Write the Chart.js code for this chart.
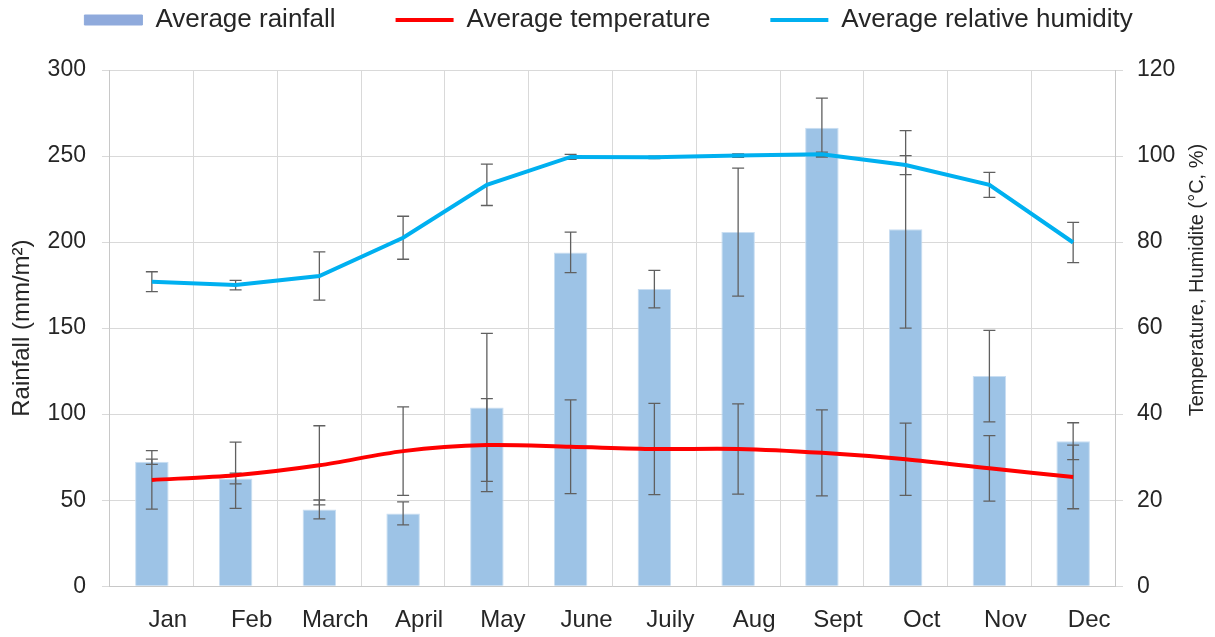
<!DOCTYPE html>
<html>
<head>
<meta charset="utf-8">
<script src="https://cdn.jsdelivr.net/npm/chart.js@4.4.0/dist/chart.umd.min.js"></script>
<style>
  html, body { margin: 0; padding: 0; background: #fff; }
</style>
</head>
<body>
<canvas id="chart" width="1215" height="637"></canvas>
<script>
// data
const months = ['Jan', 'Feb', 'March', 'April', 'May', 'June', 'Juily', 'Aug', 'Sept', 'Oct', 'Nov', 'Dec'];
const rainfall = [72.3, 62.6, 44.6, 42.3, 103.9, 194.0, 172.7, 205.8, 266.5, 207.4, 122.1, 84.3];
const rainfallErr = [1.5, 3.1, 5.5, 6.7, 43, 11.8, 10.9, 37.2, 17.1, 57.4, 26.6, 10.7];
const temperature = [24.7, 25.8, 28.1, 31.4, 32.8, 32.4, 31.9, 31.9, 31.0, 29.5, 27.4, 25.4];
const temperatureErr = [6.8, 7.7, 9.2, 10.3, 10.8, 10.9, 10.6, 10.5, 10.0, 8.4, 7.6, 7.4];
const humidity = [70.8, 70.0, 72.1, 81.0, 93.3, 99.8, 99.7, 100.1, 100.4, 97.9, 93.3, 79.9];
const humidityErr = [2.3, 1.1, 5.6, 5.0, 4.8, 0.6, 0.3, 0.4, 0.5, 2.2, 2.9, 4.7];

const leftTicks = [0, 300, 50];
const rightTicks = [0, 120, 20];
const leftTitle = 'Rainfall (mm/m²)';
const rightTitle = 'Temperature, Humidite (°C, %)';

Chart.defaults.font.family = '"Liberation Sans", Arial, sans-serif';
Chart.defaults.color = '#333';

// error bars: bars get them on top, lines get them underneath
function drawErrors(chart, index) {
  const ds = chart.data.datasets[index];
  if (!ds.errors) return;
  const meta = chart.getDatasetMeta(index);
  const scale = chart.scales[meta.yAxisID];
  const ctx = chart.ctx;
  ctx.save();
  ctx.strokeStyle = '#606060';
  ctx.lineWidth = 1.3;
  meta.data.forEach((el, j) => {
    const v = ds.data[j], e = ds.errors[j];
    const x = el.x;
    const yt = scale.getPixelForValue(v + e);
    const yb = scale.getPixelForValue(v - e);
    ctx.beginPath();
    ctx.moveTo(x, yt); ctx.lineTo(x, yb);
    ctx.moveTo(x - 6, yt); ctx.lineTo(x + 6, yt);
    ctx.moveTo(x - 6, yb); ctx.lineTo(x + 6, yb);
    ctx.stroke();
  });
  ctx.restore();
}

const errorBars = {
  id: 'errorBars',
  beforeDatasetDraw(chart, args) {
    if (chart.data.datasets[args.index].type === 'line') drawErrors(chart, args.index);
  },
  afterDatasetDraw(chart, args) {
    if (chart.data.datasets[args.index].type === 'bar') drawErrors(chart, args.index);
  }
};

// right axis title reads bottom-to-top like the left one
const rightTitlePlugin = {
  id: 'rightTitle',
  afterDraw(chart) {
    const s = chart.scales.y1;
    const area = chart.chartArea;
    const ctx = chart.ctx;
    ctx.save();
    ctx.translate(s.right - 16, (area.top + area.bottom) / 2 - 48);
    ctx.rotate(-Math.PI / 2);
    ctx.font = '20px "Liberation Sans", Arial, sans-serif';
    ctx.fillStyle = '#262626';
    ctx.textAlign = 'center';
    ctx.textBaseline = 'middle';
    ctx.fillText(rightTitle, 0, 0);
    ctx.restore();
  }
};

const ctx = document.getElementById('chart').getContext('2d');
new Chart(ctx, {
  data: {
    labels: months,
    datasets: [
      {
        type: 'bar',
        label: 'Average rainfall',
        data: rainfall,
        errors: rainfallErr,
        yAxisID: 'y',
        backgroundColor: '#9dc3e6',
        borderColor: '#c9def2',
        borderWidth: 1,
        barPercentage: 0.4,
        categoryPercentage: 1,
        pointStyle: 'rect',
        order: 3
      },
      {
        type: 'line',
        label: 'Average temperature',
        data: temperature,
        errors: temperatureErr,
        yAxisID: 'y1',
        borderColor: '#ff0000',
        backgroundColor: '#ff0000',
        borderWidth: 4,
        pointRadius: 0,
        tension: 0.3,
        pointStyle: 'line',
        order: 2
      },
      {
        type: 'line',
        label: 'Average relative humidity',
        data: humidity,
        errors: humidityErr,
        yAxisID: 'y1',
        borderColor: '#00b0f0',
        backgroundColor: '#00b0f0',
        borderWidth: 4,
        pointRadius: 0,
        tension: 0,
        pointStyle: 'line',
        order: 1
      }
    ]
  },
  options: {
    responsive: false,
    animation: false,
    layout: { padding: { top: -53, bottom: -18, left: 3.8, right: 1.6 } },
    plugins: {
      tooltip: { enabled: false },
      // empty subtitle used as a gap between the legend and the plot
      subtitle: { display: true, text: '', weight: 500, font: { size: 10 }, padding: { top: 15, bottom: 0 } },
      legend: {
        position: 'top',
        labels: {
          usePointStyle: true,
          pointStyleWidth: 58,
          boxHeight: 10,
          padding: 60,
          color: '#262626',
          font: { size: 26 },
          generateLabels(chart) {
            const items = Chart.defaults.plugins.legend.labels.generateLabels(chart);
            items.sort((a, b) => a.datasetIndex - b.datasetIndex);
            items.forEach(it => {
              if (it.datasetIndex === 0) {
                it.fillStyle = '#8faadc';
                it.strokeStyle = '#8faadc';
              }
            });
            return items;
          }
        }
      }
    },
    scales: {
      x: {
        offset: true,
        grid: { offset: true, color: '#d9d9d9', drawTicks: false },
        border: { color: '#c8c8c8' },
        ticks: { font: { size: 24 }, padding: 20, labelOffset: 16, color: '#262626' }
      },
      y: {
        position: 'left',
        min: leftTicks[0],
        max: leftTicks[1],
        ticks: { stepSize: leftTicks[2], font: { size: 23 }, padding: 16, color: '#262626' },
        grid: { color: '#d9d9d9', tickLength: 8 },
        border: { color: '#c8c8c8' },
        title: {
          display: true,
          text: leftTitle,
          font: { size: 24 },
          color: '#262626',
          padding: { top: 4, bottom: -5 }
        }
      },
      y1: {
        position: 'right',
        min: rightTicks[0],
        max: rightTicks[1],
        ticks: { stepSize: rightTicks[2], font: { size: 23 }, padding: 14, color: '#262626' },
        grid: { drawOnChartArea: false, color: '#d9d9d9', tickLength: 8 },
        border: { color: '#c8c8c8' },
        title: {
          display: true,
          text: rightTitle,
          font: { size: 20 },
          color: 'rgba(0,0,0,0)',
          padding: { top: 4, bottom: -4 }
        }
      }
    }
  },
  plugins: [errorBars, rightTitlePlugin]
});
</script>
</body>
</html>
